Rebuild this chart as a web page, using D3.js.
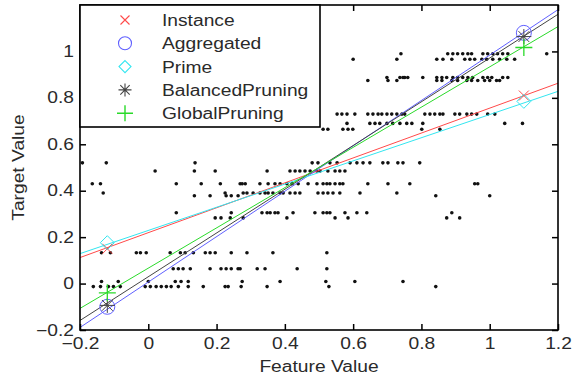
<!DOCTYPE html>
<html>
<head>
<meta charset="utf-8">
<script src="https://cdn.jsdelivr.net/npm/d3@7"></script>
<style>
  body { margin: 0; background: #fff; }
</style>
</head>
<body>
<script>
// series of the fitted models
const seriesNames = ["Instance", "Aggregated", "Prime", "BalancedPruning", "GlobalPruning"];
const fitX = [-0.2, 1.2];
const fitY = [
    [0.112, 0.863],
    [-0.189, 1.18],
    [0.129, 0.828],
    [-0.159, 1.16],
    [-0.107, 1.107]
];
const markX = [-0.12, 1.1];
const markY = [
    [0.15, 0.81],
    [-0.10, 1.08],
    [0.176, 0.785],
    [-0.094, 1.064],
    [-0.04, 1.017]
];

// observed samples, grouped by target value
const dotLevels = [0.99, 0.966, 0.888, 0.875, 0.73, 0.69, 0.665, 0.52, 0.485, 0.43, 0.39, 0.378, 0.305, 0.283, 0.133, 0.064, 0.009, -0.013];
const dotFeatures = [
    [0.74, 0.877, 0.892, 0.906, 0.921, 0.936, 0.947, 0.98, 0.994, 1.009, 1.023, 1.038, 1.053, 1.167],
    [0.60, 0.728, 0.845, 0.863, 0.889, 0.927, 0.942, 0.956, 0.977, 0.991, 1.009, 1.029, 1.05, 1.073],
    [0.699, 0.737, 0.746, 0.751, 0.76, 0.804, 0.845, 0.86, 0.874, 0.892, 0.906, 0.921, 0.936, 0.95, 0.98, 0.994, 1.006, 1.038, 1.053],
    [0.643, 0.702, 0.728, 0.845, 0.86, 0.889, 0.906, 0.933, 0.947, 0.965, 0.985, 1.0, 1.02, 1.029],
    [0.553, 0.567, 0.582, 0.605, 0.643, 0.658, 0.673, 0.684, 0.699, 0.713, 0.728, 0.743, 0.751, 0.81, 0.825, 0.839, 0.854, 0.863, 0.898, 0.912, 0.933, 0.947, 0.962, 0.994, 1.015],
    [0.582, 0.649, 0.664, 0.678, 0.699, 0.716, 0.737, 0.757, 0.772, 0.804, 1.044, 1.096],
    [0.512, 0.526, 0.57, 0.585, 0.599, 0.801, 0.854],
    [-0.193, -0.123, 0.137, 0.48, 0.497, 0.532, 0.553, 0.591, 0.611, 0.629, 0.649, 0.687, 0.702, 0.731, 0.746, 0.795],
    [0.02, 0.135, 0.196, 0.348, 0.415, 0.43, 0.444, 0.459, 0.474, 0.494, 0.503, 0.526, 0.547, 0.561, 0.576],
    [-0.164, -0.14, 0.082, 0.155, 0.211, 0.269, 0.275, 0.284, 0.327, 0.351, 0.371, 0.386, 0.406, 0.421, 0.439, 0.468, 0.494, 0.512, 0.523, 0.532, 0.547, 0.561, 0.57, 0.643, 0.702, 0.766, 0.956, 0.965],
    [-0.132, 0.225, 0.278, 0.289, 0.307, 0.327, 0.342, 0.351, 0.365, 0.386, 0.395, 0.415, 0.43, 0.444, 0.497, 0.512, 0.526, 0.541, 0.561, 0.62, 0.728],
    [0.135, 0.181, 0.228, 0.243, 0.263, 0.842, 1.0],
    [0.082, 0.243, 0.333, 0.348, 0.357, 0.371, 0.38, 0.424, 0.488, 0.512, 0.523, 0.532, 0.576, 0.611, 0.64, 0.889],
    [0.196, 0.213, 0.24, 0.278, 0.406, 0.547, 0.585, 0.874, 0.912],
    [-0.137, -0.111, -0.035, -0.023, -0.006, 0.064, 0.094, 0.108, 0.132, 0.167, 0.181, 0.196, 0.243, 0.289, 0.365, 0.523],
    [0.073, 0.088, 0.102, 0.123, 0.181, 0.213, 0.228, 0.243, 0.263, 0.269, 0.319, 0.342, 0.436, 0.523],
    [-0.137, -0.088, 0.0, 0.079, 0.096, 0.117, 0.275, 0.386, 0.52, 0.605, 0.746],
    [-0.161, -0.14, -0.117, -0.102, -0.082, -0.009, 0.006, 0.023, 0.038, 0.053, 0.067, 0.088, 0.117, 0.161, 0.225, 0.234, 0.272, 0.348, 0.529, 0.842]
];

const xTicks = [-0.2, 0, 0.2, 0.4, 0.6, 0.8, 1, 1.2];
const yTicks = [-0.2, 0, 0.2, 0.4, 0.6, 0.8, 1];

// styles
const colors = ["#ff4a4a", "#6060ff", "#33e6f0", "#444444", "#2ada2a"];
const shapes = ["x", "o", "d", "star", "plus"];
const markSize = [5, 7.5, 7, 7.5, 8.5];

const W = 573, H = 379;
const margin = { top: 5, right: 15, bottom: 49, left: 80 };
const font = "'Liberation Sans', Arial, sans-serif";
const ink = "#2a2a2a";

const svg = d3.select("body").append("svg")
    .attr("width", W)
    .attr("height", H);

const x = d3.scaleLinear().domain([-0.2, 1.2]).range([margin.left, W - margin.right]);
const y = d3.scaleLinear().domain([-0.2, 1.2]).range([H - margin.bottom, margin.top]);

// the original text looks horizontally stretched, widen it a bit
function widen(sel) {
    sel.each(function() {
        const w = this.getComputedTextLength();
        this.setAttribute("textLength", w * 1.2);
        this.setAttribute("lengthAdjust", "spacingAndGlyphs");
    });
}

function symbol(kind, s) {
    switch (kind) {
        case "x":
            return `M${-s},${-s}L${s},${s}M${-s},${s}L${s},${-s}`;
        case "o": {
            const p = d3.path();
            p.arc(0, 0, s, 0, 2 * Math.PI);
            return p.toString();
        }
        case "d":
            return `M0,${-s}L${s},0L0,${s}L${-s},0Z`;
        case "star": {
            const k = s * 0.72;
            return `M${-s},0L${s},0M0,${-s}L0,${s}M${-k},${-k}L${k},${k}M${-k},${k}L${k},${-k}`;
        }
        case "plus":
            return `M${-s},0L${s},0M0,${-s}L0,${s}`;
    }
}

svg.append("clipPath").attr("id", "plot")
    .append("rect")
    .attr("x", x(-0.2)).attr("y", y(1.2))
    .attr("width", x(1.2) - x(-0.2))
    .attr("height", y(-0.2) - y(1.2));

// scatter dots
const dots = dotLevels.flatMap((lv, i) => dotFeatures[i].map(f => [f, lv]));
svg.append("g")
    .selectAll("circle")
    .data(dots)
    .join("circle")
    .attr("cx", d => x(d[0]))
    .attr("cy", d => y(d[1]))
    .attr("r", 1.8)
    .attr("fill", "#111");

// fitted lines
const line = d3.line().x(d => x(d[0])).y(d => y(d[1]));
svg.append("g")
    .attr("clip-path", "url(#plot)")
    .selectAll("path")
    .data(seriesNames)
    .join("path")
    .attr("d", (d, i) => line(fitX.map((fx, j) => [fx, fitY[i][j]])))
    .attr("fill", "none")
    .attr("stroke", (d, i) => colors[i])
    .attr("stroke-width", 1);

// markers at the ends
seriesNames.forEach((name, i) => {
    svg.append("g")
        .selectAll("path")
        .data(markX.map((mx, j) => [mx, markY[i][j]]))
        .join("path")
        .attr("transform", d => `translate(${x(d[0])},${y(d[1])})`)
        .attr("d", symbol(shapes[i], markSize[i]))
        .attr("fill", "none")
        .attr("stroke", colors[i])
        .attr("stroke-width", i === 4 ? 1.3 : 1);
});

// axes with inward ticks
function styleAxis(g) {
    g.select(".domain").remove();
    g.selectAll(".tick line").attr("stroke", "#000").attr("stroke-width", 1.5);
    g.selectAll("text")
        .attr("font-family", font)
        .attr("font-size", 16)
        .attr("fill", ink);
}

const fmt = d => d === 0 ? "0" : d3.format("")(d);

svg.append("g")
    .attr("transform", `translate(0,${y(-0.2)})`)
    .call(d3.axisBottom(x).tickValues(xTicks).tickFormat(fmt).tickSizeInner(-6).tickSizeOuter(0).tickPadding(8))
    .call(styleAxis)
    .selectAll("text").call(widen);

svg.append("g")
    .attr("transform", `translate(${x(-0.2)},0)`)
    .call(d3.axisLeft(y).tickValues(yTicks).tickFormat(fmt).tickSizeInner(-6).tickSizeOuter(0).tickPadding(6))
    .call(styleAxis)
    .selectAll("text").call(widen);

svg.append("g")
    .attr("transform", `translate(0,${y(1.2)})`)
    .call(d3.axisTop(x).tickValues(xTicks).tickFormat("").tickSizeInner(-6).tickSizeOuter(0))
    .call(styleAxis);

svg.append("g")
    .attr("transform", `translate(${x(1.2)},0)`)
    .call(d3.axisRight(y).tickValues(yTicks).tickFormat("").tickSizeInner(-6).tickSizeOuter(0))
    .call(styleAxis);

svg.append("rect")
    .attr("x", x(-0.2)).attr("y", y(1.2))
    .attr("width", x(1.2) - x(-0.2))
    .attr("height", y(-0.2) - y(1.2))
    .attr("fill", "none")
    .attr("stroke", "#000")
    .attr("stroke-width", 1.6);

// axis titles
svg.append("text")
    .attr("x", (x(-0.2) + x(1.2)) / 2)
    .attr("y", 372)
    .attr("text-anchor", "middle")
    .attr("font-family", font)
    .attr("font-size", 16)
    .attr("fill", ink)
    .text("Feature Value")
    .call(widen);

svg.append("text")
    .attr("transform", `translate(24,${(y(-0.2) + y(1.2)) / 2}) rotate(-90)`)
    .attr("text-anchor", "middle")
    .attr("font-family", font)
    .attr("font-size", 16)
    .attr("fill", ink)
    .text("Target Value")
    .call(widen);

// legend
const legend = svg.append("g");
legend.append("rect")
    .attr("x", x(-0.2)).attr("y", y(1.2))
    .attr("width", 240).attr("height", 122)
    .attr("fill", "#fff")
    .attr("stroke", "#000")
    .attr("stroke-width", 1.6);

const legendSize = [4.5, 6.5, 6, 6.5, 8];
seriesNames.forEach((name, i) => {
    const ly = 20 + i * 23.3;
    legend.append("path")
        .attr("transform", `translate(125,${ly})`)
        .attr("d", symbol(shapes[i], legendSize[i]))
        .attr("fill", "none")
        .attr("stroke", colors[i])
        .attr("stroke-width", i === 4 ? 1.4 : 1.1);
    legend.append("text")
        .attr("x", 162)
        .attr("y", ly + 6)
        .attr("font-family", font)
        .attr("font-size", 16)
        .attr("fill", ink)
        .text(name)
        .call(widen);
});
</script>
</body>
</html>
